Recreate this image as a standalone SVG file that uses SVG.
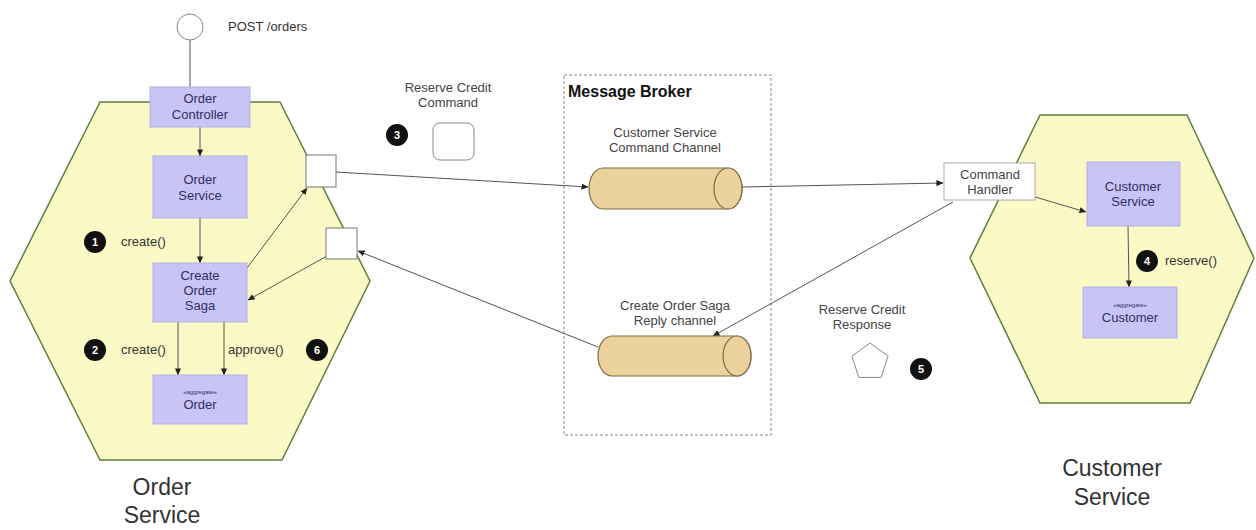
<svg xmlns="http://www.w3.org/2000/svg" width="1256" height="530" viewBox="0 0 1256 530">
<style>
  .hex { fill: #fbf9c6; stroke: #5e7f3e; stroke-width: 1.5; }
  .box { fill: #c8c5f4; stroke: #b3b0e6; stroke-width: 1; }
  .btxt { font-family: "Liberation Sans", Arial, sans-serif; font-size: 13px; fill: #2f2f66; text-anchor: middle; }
  .tiny { font-family: "Liberation Sans", Arial, sans-serif; font-size: 6px; fill: #2f2f66; text-anchor: middle; }
  .lbl { font-family: "Liberation Sans", Arial, sans-serif; font-size: 13px; fill: #444; text-anchor: middle; }
  .lbls { font-family: "Liberation Sans", Arial, sans-serif; font-size: 13px; fill: #333; text-anchor: start; }
  .big { font-family: "Liberation Sans", Arial, sans-serif; font-size: 23px; fill: #333; text-anchor: middle; }
  .badge { fill: #111; }
  .bnum { font-family: "Liberation Sans", Arial, sans-serif; font-size: 11px; font-weight: bold; fill: #fff; text-anchor: middle; }
  .port { fill: #fff; stroke: #777; stroke-width: 1; }
  .cyl { fill: #ebd29c; stroke: #7d6c45; stroke-width: 1.2; }
  .conn { fill: none; stroke: #555; stroke-width: 1; }
</style>
<defs>
  <marker id="arr" viewBox="0 0 8 8" refX="7.5" refY="4" markerWidth="7" markerHeight="7" markerUnits="userSpaceOnUse" orient="auto">
    <path d="M0,0.5 L8,4 L0,7.5 Z" fill="#222"/>
  </marker>
</defs>

<g id="order-service-hex">
  <polygon class="hex" points="100,102 280,102 370,281 282,460 100,460 10,281"/>
  <text class="big" x="162" y="495">Order</text>
  <text class="big" x="162" y="523">Service</text>
</g>
<g id="customer-service-hex">
  <polygon class="hex" points="1040,115 1187,115 1254,258 1190,403 1040,403 970,258"/>
  <text class="big" x="1112" y="476">Customer</text>
  <text class="big" x="1112" y="505">Service</text>
</g>

<g id="message-broker">
  <rect x="564" y="75" width="207" height="360" fill="none" stroke="#888" stroke-width="1" stroke-dasharray="3,2"/>
  <text x="568" y="97" font-family="Liberation Sans, Arial, sans-serif" font-size="16" font-weight="bold" fill="#111">Message Broker</text>
</g>

<g id="connectors">
  <line class="conn" x1="190" y1="40" x2="190" y2="87"/>
  <line class="conn" x1="200" y1="127" x2="200" y2="156" marker-end="url(#arr)"/>
  <line class="conn" x1="200" y1="218" x2="200" y2="263" marker-end="url(#arr)"/>
  <line class="conn" x1="178" y1="322" x2="178" y2="375" marker-end="url(#arr)"/>
  <line class="conn" x1="224" y1="322" x2="224" y2="375" marker-end="url(#arr)"/>
  <line class="conn" x1="247" y1="268" x2="307" y2="188" marker-end="url(#arr)"/>
  <line class="conn" x1="327" y1="256" x2="248" y2="300" marker-end="url(#arr)"/>
  <line class="conn" x1="336" y1="172" x2="588" y2="187" marker-end="url(#arr)"/>
  <line class="conn" x1="598" y1="347" x2="358" y2="251" marker-end="url(#arr)"/>
  <line class="conn" x1="742" y1="187" x2="943" y2="183" marker-end="url(#arr)"/>
  <line class="conn" x1="953" y1="202" x2="713" y2="336" marker-end="url(#arr)"/>
  <line class="conn" x1="1035" y1="197" x2="1086" y2="212" marker-end="url(#arr)"/>
  <line class="conn" x1="1128" y1="226" x2="1129" y2="287" marker-end="url(#arr)"/>
</g>

<g id="post-endpoint">
  <circle cx="190" cy="27" r="13" fill="#fff" stroke="#888" stroke-width="1"/>
  <text class="lbls" x="228" y="31">POST /orders</text>
</g>

<g id="order-controller">
  <rect class="box" x="150" y="87" width="100" height="40"/>
  <text class="btxt" x="200" y="103">Order</text>
  <text class="btxt" x="200" y="119">Controller</text>
</g>
<g id="order-service-box">
  <rect class="box" x="153" y="156" width="94" height="62"/>
  <text class="btxt" x="200" y="184">Order</text>
  <text class="btxt" x="200" y="200">Service</text>
</g>
<g id="create-order-saga">
  <rect class="box" x="153" y="263" width="94" height="59"/>
  <text class="btxt" x="200" y="280">Create</text>
  <text class="btxt" x="200" y="295">Order</text>
  <text class="btxt" x="200" y="310">Saga</text>
</g>
<g id="order-aggregate">
  <rect class="box" x="153" y="375" width="94" height="49"/>
  <text class="tiny" x="200" y="394">«aggregate»</text>
  <text class="btxt" x="200" y="409">Order</text>
</g>

<g id="port-out">
  <rect class="port" x="306" y="155" width="30" height="32"/>
</g>
<g id="port-in">
  <rect class="port" x="326" y="228" width="31" height="31"/>
</g>

<g id="badge-1">
  <circle class="badge" cx="95" cy="242" r="11"/>
  <text class="bnum" x="95" y="246">1</text>
  <text class="lbls" x="121" y="246">create()</text>
</g>
<g id="badge-2">
  <circle class="badge" cx="95" cy="350" r="11"/>
  <text class="bnum" x="95" y="354">2</text>
  <text class="lbls" x="121" y="354">create()</text>
</g>
<g id="badge-6">
  <circle class="badge" cx="317" cy="350" r="11"/>
  <text class="bnum" x="317" y="354">6</text>
  <text class="lbls" x="228" y="354">approve()</text>
</g>

<g id="reserve-credit-command">
  <text class="lbl" x="448" y="92">Reserve Credit</text>
  <text class="lbl" x="448" y="107">Command</text>
  <circle class="badge" cx="397" cy="135" r="11"/>
  <text class="bnum" x="397" y="139">3</text>
  <rect x="433" y="123" width="41" height="37" rx="7" fill="#fff" stroke="#888" stroke-width="1"/>
</g>

<g id="command-channel">
  <text class="lbl" x="665" y="137">Customer Service</text>
  <text class="lbl" x="665" y="152">Command Channel</text>
  <path class="cyl" d="M603,168 L728,168 A14,20.5 0 0 1 728,209 L603,209 A14,20.5 0 0 1 603,168 Z"/>
  <ellipse class="cyl" cx="728" cy="188.5" rx="14" ry="20.5"/>
</g>

<g id="reply-channel">
  <text class="lbl" x="675" y="310">Create Order Saga</text>
  <text class="lbl" x="675" y="325">Reply channel</text>
  <path class="cyl" d="M612,336 L737,336 A14,20 0 0 1 737,376 L612,376 A14,20 0 0 1 612,336 Z"/>
  <ellipse class="cyl" cx="737" cy="356" rx="14" ry="20"/>
</g>

<g id="command-handler">
  <rect x="944" y="163" width="91" height="37" fill="#fff" stroke="#aaa" stroke-width="1"/>
  <text class="lbl" x="990" y="179">Command</text>
  <text class="lbl" x="990" y="194">Handler</text>
</g>

<g id="customer-service-box">
  <rect class="box" x="1087" y="162" width="93" height="64"/>
  <text class="btxt" x="1133" y="191">Customer</text>
  <text class="btxt" x="1133" y="206">Service</text>
</g>
<g id="customer-aggregate">
  <rect class="box" x="1083" y="287" width="94" height="51"/>
  <text class="tiny" x="1130" y="307">«aggregate»</text>
  <text class="btxt" x="1130" y="322">Customer</text>
</g>

<g id="badge-4">
  <circle class="badge" cx="1147" cy="261" r="11"/>
  <text class="bnum" x="1147" y="265">4</text>
  <text class="lbls" x="1165" y="265">reserve()</text>
</g>

<g id="reserve-credit-response">
  <text class="lbl" x="862" y="314">Reserve Credit</text>
  <text class="lbl" x="862" y="329">Response</text>
  <polygon points="870,343 888.1,356.1 881.2,377.4 858.8,377.4 851.9,356.1" fill="#fff" stroke="#888" stroke-width="1"/>
  <circle class="badge" cx="921" cy="369" r="11"/>
  <text class="bnum" x="921" y="373">5</text>
</g>
</svg>
